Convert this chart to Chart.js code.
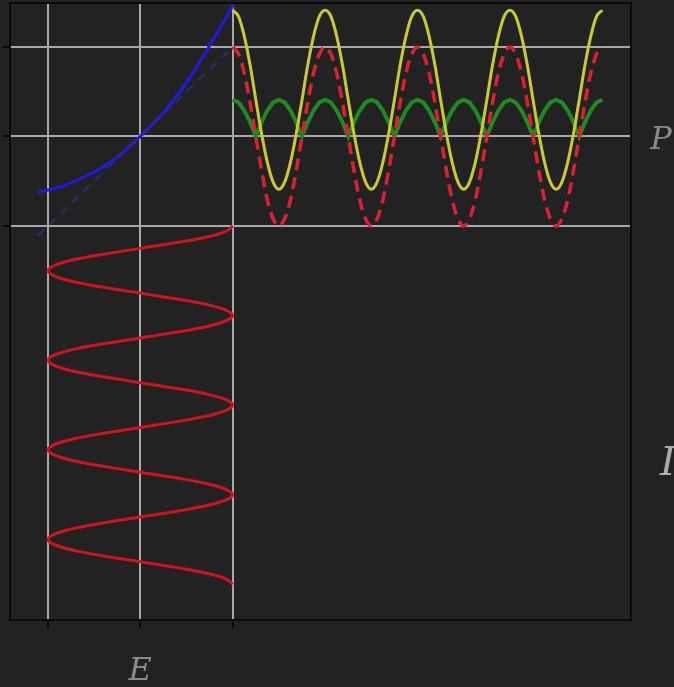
<!DOCTYPE html>
<html>
<head>
<meta charset="utf-8">
<script src="https://cdn.jsdelivr.net/npm/chart.js@4.4.1/dist/chart.umd.min.js"></script>
<style>
  body { margin: 0; background: #222222; }
</style>
</head>
<body>
<canvas id="plot" width="674" height="687"></canvas>
<script>
// tick positions
var xTicks = [0, 1, 2];
var yTicks = [0, 1, 2];

// shared x positions for the waves on the right (1/16 steps)
var waveX = [2, 2.0625, 2.125, 2.1875, 2.25, 2.3125, 2.375, 2.4375, 2.5, 2.5625, 2.625, 2.6875, 2.75, 2.8125, 2.875, 2.9375,
             3, 3.0625, 3.125, 3.1875, 3.25, 3.3125, 3.375, 3.4375, 3.5, 3.5625, 3.625, 3.6875, 3.75, 3.8125, 3.875, 3.9375,
             4, 4.0625, 4.125, 4.1875, 4.25, 4.3125, 4.375, 4.4375, 4.5, 4.5625, 4.625, 4.6875, 4.75, 4.8125, 4.875, 4.9375,
             5, 5.0625, 5.125, 5.1875, 5.25, 5.3125, 5.375, 5.4375, 5.5, 5.5625, 5.625, 5.6875, 5.75, 5.8125, 5.875, 5.9375, 6];

var yellowY = [2.41, 2.34, 2.12, 1.80, 1.41, 1.03, 0.71, 0.49, 0.41, 0.49, 0.71, 1.03, 1.41, 1.80, 2.12, 2.34,
               2.41, 2.34, 2.12, 1.80, 1.41, 1.03, 0.71, 0.49, 0.41, 0.49, 0.71, 1.03, 1.41, 1.80, 2.12, 2.34,
               2.41, 2.34, 2.12, 1.80, 1.41, 1.03, 0.71, 0.49, 0.41, 0.49, 0.71, 1.03, 1.41, 1.80, 2.12, 2.34,
               2.41, 2.34, 2.12, 1.80, 1.41, 1.03, 0.71, 0.49, 0.41, 0.49, 0.71, 1.03, 1.41, 1.80, 2.12, 2.34, 2.41];

var dashedY = [2.00, 1.92, 1.71, 1.38, 1.00, 0.62, 0.29, 0.08, 0.00, 0.08, 0.29, 0.62, 1.00, 1.38, 1.71, 1.92,
               2.00, 1.92, 1.71, 1.38, 1.00, 0.62, 0.29, 0.08, 0.00, 0.08, 0.29, 0.62, 1.00, 1.38, 1.71, 1.92,
               2.00, 1.92, 1.71, 1.38, 1.00, 0.62, 0.29, 0.08, 0.00, 0.08, 0.29, 0.62, 1.00, 1.38, 1.71, 1.92,
               2.00, 1.92, 1.71, 1.38, 1.00, 0.62, 0.29, 0.08, 0.00, 0.08, 0.29, 0.62, 1.00, 1.38, 1.71, 1.92, 2.00];

var greenY = [1.41, 1.38, 1.29, 1.16, 1.00, 1.16, 1.29, 1.38, 1.41, 1.38, 1.29, 1.16, 1.00, 1.16, 1.29, 1.38,
              1.41, 1.38, 1.29, 1.16, 1.00, 1.16, 1.29, 1.38, 1.41, 1.38, 1.29, 1.16, 1.00, 1.16, 1.29, 1.38,
              1.41, 1.38, 1.29, 1.16, 1.00, 1.16, 1.29, 1.38, 1.41, 1.38, 1.29, 1.16, 1.00, 1.16, 1.29, 1.38,
              1.41, 1.38, 1.29, 1.16, 1.00, 1.16, 1.29, 1.38, 1.41, 1.38, 1.29, 1.16, 1.00, 1.16, 1.29, 1.38, 1.41];

// vertical wave under the left block: y going down, x swinging
var vertY = [0, -0.0625, -0.125, -0.1875, -0.25, -0.3125, -0.375, -0.4375, -0.5, -0.5625, -0.625, -0.6875, -0.75, -0.8125, -0.875, -0.9375,
             -1, -1.0625, -1.125, -1.1875, -1.25, -1.3125, -1.375, -1.4375, -1.5, -1.5625, -1.625, -1.6875, -1.75, -1.8125, -1.875, -1.9375,
             -2, -2.0625, -2.125, -2.1875, -2.25, -2.3125, -2.375, -2.4375, -2.5, -2.5625, -2.625, -2.6875, -2.75, -2.8125, -2.875, -2.9375,
             -3, -3.0625, -3.125, -3.1875, -3.25, -3.3125, -3.375, -3.4375, -3.5, -3.5625, -3.625, -3.6875, -3.75, -3.8125, -3.875, -3.9375, -4];
var vertX = [2.00, 1.92, 1.71, 1.38, 1.00, 0.62, 0.29, 0.08, 0.00, 0.08, 0.29, 0.62, 1.00, 1.38, 1.71, 1.92,
             2.00, 1.92, 1.71, 1.38, 1.00, 0.62, 0.29, 0.08, 0.00, 0.08, 0.29, 0.62, 1.00, 1.38, 1.71, 1.92,
             2.00, 1.92, 1.71, 1.38, 1.00, 0.62, 0.29, 0.08, 0.00, 0.08, 0.29, 0.62, 1.00, 1.38, 1.71, 1.92,
             2.00, 1.92, 1.71, 1.38, 1.00, 0.62, 0.29, 0.08, 0.00, 0.08, 0.29, 0.62, 1.00, 1.38, 1.71, 1.92, 2.00];

// blue curve and its dashed tangent
var blueX = [-0.11, 0, 0.2, 0.4, 0.6, 0.8, 1.0, 1.2, 1.4, 1.6, 1.8, 2.0, 2.03];
var blueY = [0.38, 0.40, 0.46, 0.55, 0.66, 0.81, 1.00, 1.21, 1.46, 1.76, 2.10, 2.46, 2.52];
var tangentX = [-0.11, 2.0];
var tangentY = [-0.11, 2.0];

// axis letters
var labelE = 'E', labelP = 'P', labelI = 'I';

function pts(xs, ys) {
    var out = [];
    for (var i = 0; i < xs.length; i++) out.push({x: xs[i], y: ys[i]});
    return out;
}

var letters = {
    id: 'letters',
    beforeDraw: function(chart) {
        var c = chart.ctx;
        c.save();
        c.fillStyle = '#222222';
        c.fillRect(0, 0, chart.width, chart.height);
        c.restore();
    },
    afterDraw: function(chart) {
        var c = chart.ctx, a = chart.chartArea;
        var xs = chart.scales.x, ys = chart.scales.y;
        c.save();
        c.strokeStyle = '#0a0a0a';
        c.lineWidth = 2;
        c.strokeRect(a.left, a.top, a.right - a.left, a.bottom - a.top);
        c.fillStyle = '#8a8a8a';
        c.textAlign = 'center';
        c.textBaseline = 'middle';
        c.font = 'italic 32px "DejaVu Serif", serif';
        c.fillText(labelE, xs.getPixelForValue(1), 672);
        c.fillText(labelP, 661, ys.getPixelForValue(1) + 4);
        c.fillStyle = '#aaaaaa';
        c.font = 'italic 40px "DejaVu Serif", serif';
        c.fillText(labelI, 668, ys.getPixelForValue(-2.67));
        c.restore();
    }
};

var ctx = document.getElementById('plot').getContext('2d');
var chart = new Chart(ctx, {
    type: 'scatter',
    data: {
        datasets: [{
            data: pts(tangentX, tangentY),
            showLine: true, borderColor: 'rgba(45,45,150,0.75)', borderWidth: 2,
            borderDash: [9, 7], pointRadius: 0, tension: 0
        }, {
            data: pts(blueX, blueY),
            showLine: true, borderColor: '#1c1ce0', borderWidth: 3,
            pointRadius: 0, cubicInterpolationMode: 'monotone'
        }, {
            data: pts(waveX, dashedY),
            showLine: true, borderColor: '#dc2030', borderWidth: 3.5,
            borderDash: [12, 7], pointRadius: 0, cubicInterpolationMode: 'monotone'
        }, {
            data: pts(waveX, yellowY),
            showLine: true, borderColor: '#c9c836', borderWidth: 3,
            pointRadius: 0, cubicInterpolationMode: 'monotone'
        }, {
            data: pts(waveX, greenY),
            showLine: true, borderColor: '#1f8a22', borderWidth: 4,
            pointRadius: 0, tension: 0
        }, {
            data: pts(vertX, vertY),
            showLine: true, borderColor: '#d0141e', borderWidth: 3,
            pointRadius: 0, tension: 0.4
        }]
    },
    options: {
        responsive: false,
        animation: false,
        layout: { padding: { left: 0, top: 3, right: 43, bottom: 0 } },
        plugins: { legend: { display: false }, tooltip: { enabled: false } },
        scales: {
            x: {
                type: 'linear', min: -0.41, max: 6.31,
                afterBuildTicks: function(s) { s.ticks = xTicks.map(function(v) { return {value: v}; }); },
                afterFit: function(s) { s.height = 67; },
                grid: { color: '#a8a8a8', lineWidth: 2, tickColor: '#0a0a0a', tickLength: 8 },
                border: { display: false },
                ticks: { display: false }
            },
            y: {
                type: 'linear', min: -4.40, max: 2.49,
                afterBuildTicks: function(s) { s.ticks = yTicks.map(function(v) { return {value: v}; }); },
                afterFit: function(s) { s.width = 10; },
                grid: { color: '#a8a8a8', lineWidth: 2, tickColor: '#0a0a0a', tickLength: 7 },
                border: { display: false },
                ticks: { display: false }
            }
        }
    },
    plugins: [letters]
});
</script>
</body>
</html>
